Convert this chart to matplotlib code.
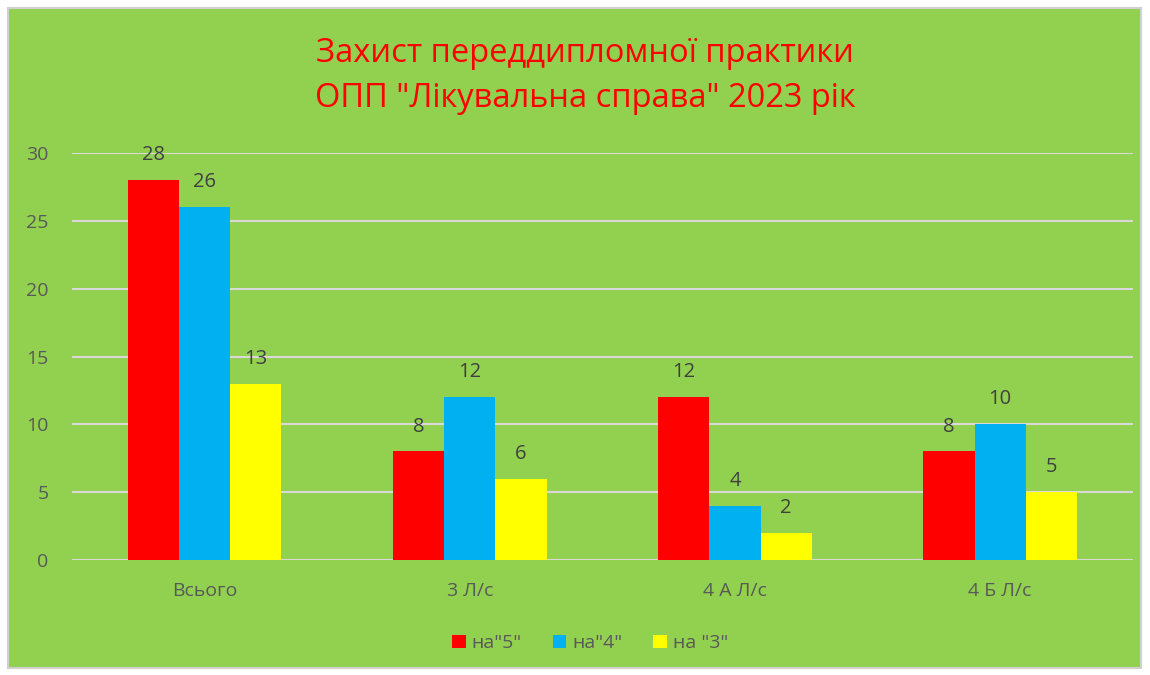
import matplotlib.pyplot as plt
import matplotlib.patches as mpatches
import numpy as np

plt.rcParams['font.family'] = ['Open Sans', 'DejaVu Sans']

categories = ['Всього', '3 Л/с', '4 А Л/с', '4 Б Л/с']
series_names = ['на"5"', 'на"4"', 'на "3"']
values_5 = [28, 8, 12, 8]
values_4 = [26, 12, 4, 10]
values_3 = [13, 6, 2, 5]
colors = ['#FF0000', '#00B0F0', '#FFFF00']

bg = '#92D050'
fig = plt.figure(figsize=(11.5, 6.75), dpi=100)
fig.patch.set_facecolor('white')
# chart area with thin grey border
fig.patches.append(mpatches.Rectangle((8 / 1150, 7 / 675), 1133 / 1150, 660 / 675,
                                      transform=fig.transFigure, facecolor=bg,
                                      edgecolor='#D0D0D0', linewidth=1.5, zorder=-10))

ax = fig.add_axes([0.0626, 0.1704, 0.9224, 0.6029])
ax.patch.set_alpha(0)

x = np.arange(len(categories))
w = 0.193
for i, (vals, c, name) in enumerate(zip([values_5, values_4, values_3], colors, series_names)):
    bars = ax.bar(x + (i - 1) * w, vals, width=w, color=c, label=name, zorder=3)
    for b, v in zip(bars, vals):
        ax.text(b.get_x() + b.get_width() / 2, v + 1.1, str(v), ha='center', va='bottom',
                fontsize=14.5, color='#404040', zorder=4)

ax.set_xlim(-0.5, 3.5)
ax.set_ylim(0, 30)
ax.set_yticks(range(0, 31, 5))
ax.set_xticks(x)
ax.set_xticklabels(categories)
ax.grid(axis='y', color='#D9D9D9', linewidth=1.5, zorder=0)
for s in ax.spines.values():
    s.set_visible(False)
ax.tick_params(axis='both', length=0, labelsize=14, labelcolor='#595959')
ax.tick_params(axis='y', pad=17)
ax.tick_params(axis='x', pad=16)

fig.text(0.509, 0.921, 'Захист переддипломної практики', ha='center', va='center',
         fontsize=23.5, color='#FF0000')
fig.text(0.509, 0.854, 'ОПП "Лікувальна справа" 2023 рік', ha='center', va='center',
         fontsize=23.5, color='#FF0000')

leg = fig.legend(loc='center', bbox_to_anchor=(0.513, 0.047), ncol=3, frameon=False,
                 fontsize=14, handlelength=0.7, handleheight=0.7, handletextpad=0.3,
                 columnspacing=1.6)
for t in leg.get_texts():
    t.set_color('#595959')

fig.savefig('out.png', dpi=100, facecolor=fig.get_facecolor())
